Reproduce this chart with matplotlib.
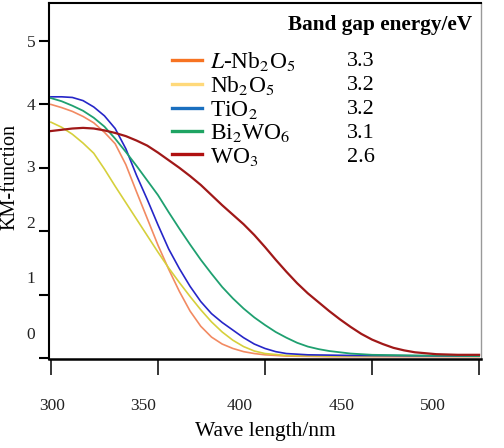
import matplotlib
matplotlib.use('Agg')
import matplotlib.pyplot as plt
from matplotlib.lines import Line2D

# 数据
names = [r'$\mathit{L}$-Nb$_2$O$_5$', r'Nb$_2$O$_5$', r'TiO$_2$', r'Bi$_2$WO$_6$', r'WO$_3$']
band_gap = ['3.3', '3.2', '3.2', '3.1', '2.6']

x_lnb = [300, 305, 310, 315, 320, 325, 330, 335, 340, 345, 350, 355, 360, 365, 370, 375, 380, 385, 390, 395, 400, 410, 430, 500]
y_lnb = [4.00, 3.95, 3.89, 3.81, 3.71, 3.56, 3.38, 3.05, 2.62, 2.20, 1.78, 1.40, 1.05, 0.74, 0.50, 0.33, 0.22, 0.15, 0.10, 0.07, 0.05, 0.03, 0.02, 0.02]

x_nb = [300, 305, 310, 315, 320, 325, 330, 335, 340, 345, 350, 355, 360, 365, 370, 375, 380, 385, 390, 395, 400, 410, 430, 500]
y_nb = [3.72, 3.64, 3.53, 3.39, 3.23, 2.98, 2.71, 2.45, 2.19, 1.93, 1.67, 1.42, 1.19, 0.97, 0.76, 0.57, 0.41, 0.28, 0.18, 0.11, 0.07, 0.04, 0.03, 0.03]

x_ti = [300, 305, 310, 315, 320, 325, 330, 335, 340, 345, 350, 355, 360, 365, 370, 375, 380, 385, 390, 395, 400, 405, 410, 420, 440, 500]
y_ti = [4.12, 4.12, 4.11, 4.06, 3.96, 3.82, 3.62, 3.30, 2.88, 2.50, 2.10, 1.72, 1.41, 1.13, 0.89, 0.70, 0.56, 0.44, 0.32, 0.22, 0.15, 0.10, 0.07, 0.05, 0.04, 0.03]

x_bi = [300, 305, 310, 315, 320, 325, 330, 335, 340, 345, 350, 355, 360, 365, 370, 375, 380, 385, 390, 395, 400, 405, 410, 415, 420, 425, 430, 440, 450, 470, 500]
y_bi = [4.10, 4.05, 3.98, 3.90, 3.79, 3.65, 3.46, 3.25, 3.03, 2.80, 2.57, 2.30, 2.04, 1.79, 1.55, 1.33, 1.12, 0.94, 0.78, 0.64, 0.52, 0.41, 0.32, 0.24, 0.18, 0.14, 0.11, 0.07, 0.05, 0.04, 0.03]

x_wo = [300, 305, 310, 315, 320, 325, 330, 335, 340, 345, 350, 355, 360, 365, 370, 375, 380, 385, 390, 395, 400, 405, 410, 415, 420, 425, 430, 435, 440, 445, 450, 455, 460, 465, 470, 480, 490, 500]
y_wo = [3.58, 3.60, 3.62, 3.63, 3.62, 3.59, 3.55, 3.50, 3.43, 3.35, 3.24, 3.12, 3.00, 2.87, 2.73, 2.57, 2.41, 2.26, 2.11, 1.94, 1.75, 1.55, 1.36, 1.18, 1.02, 0.88, 0.74, 0.61, 0.49, 0.38, 0.29, 0.22, 0.16, 0.12, 0.09, 0.06, 0.05, 0.05]

xs = [x_lnb, x_nb, x_ti, x_bi, x_wo]
ys = [y_lnb, y_nb, y_ti, y_bi, y_wo]

x_ticks = [300, 350, 400, 450, 500]
y_ticks = [0, 1, 2, 3, 4, 5]

line_colors = ['#f28a62', '#d6d03c', '#2626c8', '#1fa070', '#a01818']
legend_colors = ['#f77322', '#ffd97a', '#1a6fbf', '#1fa463', '#b01010']
line_widths = [1.2, 1.2, 1.2, 1.3, 1.6]

plt.rcParams['font.family'] = 'Liberation Serif'
plt.rcParams['mathtext.fontset'] = 'stix'

fig = plt.figure(figsize=(5.04, 4.48), dpi=100)
ax = fig.add_axes([49 / 504, 89 / 448, 432 / 504, 356 / 448])

for x, y, c, lw in zip(xs, ys, line_colors, line_widths):
    ax.plot(x, y, color=c, lw=lw)

ax.set_xlim(299.1, 500.9)
ax.set_ylim(-0.016, 5.6)

# 刻度线与刻度标签在原图中并不对齐
ax.xaxis.remove_overlapping_locs = False
ax.yaxis.remove_overlapping_locs = False
ax.set_xticks(x_ticks, labels=[''] * len(x_ticks))
ax.set_xticks([300.5, 343, 388, 436, 478.5], labels=[str(v) for v in x_ticks], minor=True)
ax.set_yticks(y_ticks, labels=[''] * len(y_ticks))
ax.set_yticks([0.39, 1.28, 2.15, 3.03, 4.0, 5.0], labels=[str(v) for v in y_ticks], minor=True)
ax.tick_params(axis='x', which='major', direction='out', length=11.5, width=1.1, color='black')
ax.tick_params(axis='y', which='major', direction='out', length=7.2, width=1.5, color='black')
ax.tick_params(axis='x', which='minor', length=0, pad=28, labelsize=12.5, labelcolor='#222222')
ax.tick_params(axis='y', which='minor', length=0, pad=10, labelsize=12.5, labelcolor='#222222')

ax.spines['left'].set_linewidth(1.5)
ax.spines['bottom'].set_linewidth(1.8)
ax.spines['top'].set_linewidth(1.5)
ax.spines['right'].set_linewidth(1.0)
ax.spines['right'].set_color('#999999')

ax.set_xlabel('Wave length/nm', fontsize=15.5, va='center')
ax.xaxis.set_label_coords(0.502, -0.205)
ax.set_ylabel('KM-function', fontsize=14.5, va='center')
ax.yaxis.set_label_coords(-0.09, 0.51)

handles = [Line2D([], [], color=c, lw=2.4) for c in legend_colors]
ax.legend(handles, names, loc='upper left', bbox_to_anchor=(0.285, 0.868),
          frameon=False, fontsize=16.8, borderpad=0, borderaxespad=0,
          handlelength=1.3, handletextpad=0.33, labelspacing=0.06)

ax.text(0.979, 0.924, 'Band gap energy/eV', transform=ax.transAxes,
        ha='right', va='baseline', fontsize=15.3, fontweight='bold')
for i, v in enumerate(band_gap):
    ax.text(0.69, 0.837 - i * 0.068, v, transform=ax.transAxes,
            ha='left', va='center', fontsize=16)

fig.savefig('out.png', dpi=100)
